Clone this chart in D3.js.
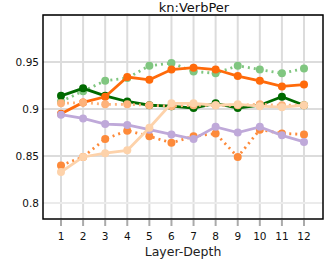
<!DOCTYPE html>
<html>
<head>
<meta charset="utf-8">
<script src="https://cdn.jsdelivr.net/npm/d3@7"></script>
<style>
  body { margin: 0; background: #fff; }
  svg { display: block; font-family: "DejaVu Sans", Verdana, sans-serif; }
</style>
</head>
<body>
<div id="chart"></div>
<script>
// kn:VerbPer probe accuracy per layer
const layers = [1, 2, 3, 4, 5, 6, 7, 8, 9, 10, 11, 12];
const yTicks = [0.8, 0.85, 0.9, 0.95];

const lightGreenDotted = [0.908, 0.919, 0.930, 0.933, 0.946, 0.949, 0.940, 0.938, 0.946, 0.942, 0.938, 0.943];
const darkGreen = [0.914, 0.922, 0.914, 0.908, 0.904, 0.903, 0.901, 0.906, 0.901, 0.904, 0.913, 0.904];
const orangeSolid = [0.895, 0.907, 0.913, 0.934, 0.931, 0.942, 0.944, 0.942, 0.935, 0.930, 0.924, 0.926];
const orangeDotted = [0.840, 0.849, 0.868, 0.877, 0.871, 0.864, 0.871, 0.874, 0.849, 0.878, 0.874, 0.873];
const salmonDotted = [0.906, 0.907, 0.905, 0.905, 0.904, 0.903, 0.904, 0.904, 0.904, 0.905, 0.904, 0.904];
const lavender = [0.894, 0.890, 0.884, 0.883, 0.878, 0.873, 0.868, 0.881, 0.875, 0.881, 0.872, 0.865];
const peach = [0.833, 0.849, 0.853, 0.856, 0.880, 0.906, 0.906, 0.904, 0.905, 0.903, 0.902, 0.904];

const series = [
  { values: lightGreenDotted, color: '#80c680', dash: '2,4' },
  { values: darkGreen, color: '#006a00', dash: null },
  { values: orangeSolid, color: '#ff6a0a', dash: null },
  { values: orangeDotted, color: '#fd8a3a', dash: '2,4' },
  { values: salmonDotted, color: '#fdb27a', dash: '2,4' },
  { values: lavender, color: '#bfa9d9', dash: null },
  { values: peach, color: '#fdd2aa', dash: null }
];

const width = 324, height = 259;
const plot = { left: 43, right: 323, top: 15, bottom: 219 };

const svg = d3.select('#chart').append('svg')
  .attr('width', width)
  .attr('height', height);

const x = d3.scaleLinear().domain([0.185, 12.86]).range([plot.left, plot.right]);
const y = d3.scaleLinear().domain([0.783, 1.0]).range([plot.bottom, plot.top]);

// grid
svg.append('g').selectAll('line')
  .data(layers)
  .enter().append('line')
  .attr('x1', d => x(d)).attr('x2', d => x(d))
  .attr('y1', plot.top).attr('y2', plot.bottom)
  .attr('stroke', '#dcdcdc').attr('stroke-width', 2);

svg.append('g').selectAll('line')
  .data(yTicks.concat([1.0]))
  .enter().append('line')
  .attr('x1', plot.left).attr('x2', plot.right)
  .attr('y1', d => y(d)).attr('y2', d => y(d))
  .attr('stroke', d => d === 0.8 ? '#ebebeb' : '#dcdcdc').attr('stroke-width', 2);

// x ticks below the frame
svg.append('g').selectAll('line')
  .data(layers)
  .enter().append('line')
  .attr('x1', d => x(d)).attr('x2', d => x(d))
  .attr('y1', plot.bottom + 1).attr('y2', plot.bottom + 7)
  .attr('stroke', '#aaa').attr('stroke-width', 2);

svg.append('g').selectAll('text')
  .data(layers)
  .enter().append('text')
  .attr('x', d => x(d))
  .attr('y', 240)
  .attr('text-anchor', 'middle')
  .style('font-size', '10.5px')
  .attr('fill', '#111')
  .text(d => d);

svg.append('g').selectAll('text')
  .data(yTicks)
  .enter().append('text')
  .attr('x', 39)
  .attr('y', d => y(d) + 4)
  .attr('text-anchor', 'end')
  .style('font-size', '10.5px')
  .attr('fill', '#111')
  .text(d => d);

// series
const line = d3.line().x((d, i) => x(layers[i])).y(d => y(d));

series.forEach(s => {
  const g = svg.append('g');
  g.append('path')
    .datum(s.values)
    .attr('d', line)
    .attr('fill', 'none')
    .attr('stroke', s.color)
    .attr('stroke-width', 2.8)
    .attr('stroke-dasharray', s.dash);
  g.selectAll('circle')
    .data(s.values)
    .enter().append('circle')
    .attr('cx', (d, i) => x(layers[i]))
    .attr('cy', d => y(d))
    .attr('r', 4)
    .attr('fill', s.color);
});

// frame
svg.append('rect')
  .attr('x', plot.left).attr('y', plot.top)
  .attr('width', plot.right - plot.left)
  .attr('height', plot.bottom - plot.top)
  .attr('fill', 'none')
  .attr('stroke', '#000')
  .attr('stroke-width', 1.5);

svg.append('text')
  .attr('x', 194).attr('y', 11.5)
  .attr('text-anchor', 'middle')
  .style('font-size', '13px')
  .attr('fill', '#111')
  .text('kn:VerbPer');

svg.append('text')
  .attr('x', 183).attr('y', 256)
  .attr('text-anchor', 'middle')
  .style('font-size', '12.5px')
  .attr('fill', '#222')
  .text('Layer-Depth');
</script>
</body>
</html>
